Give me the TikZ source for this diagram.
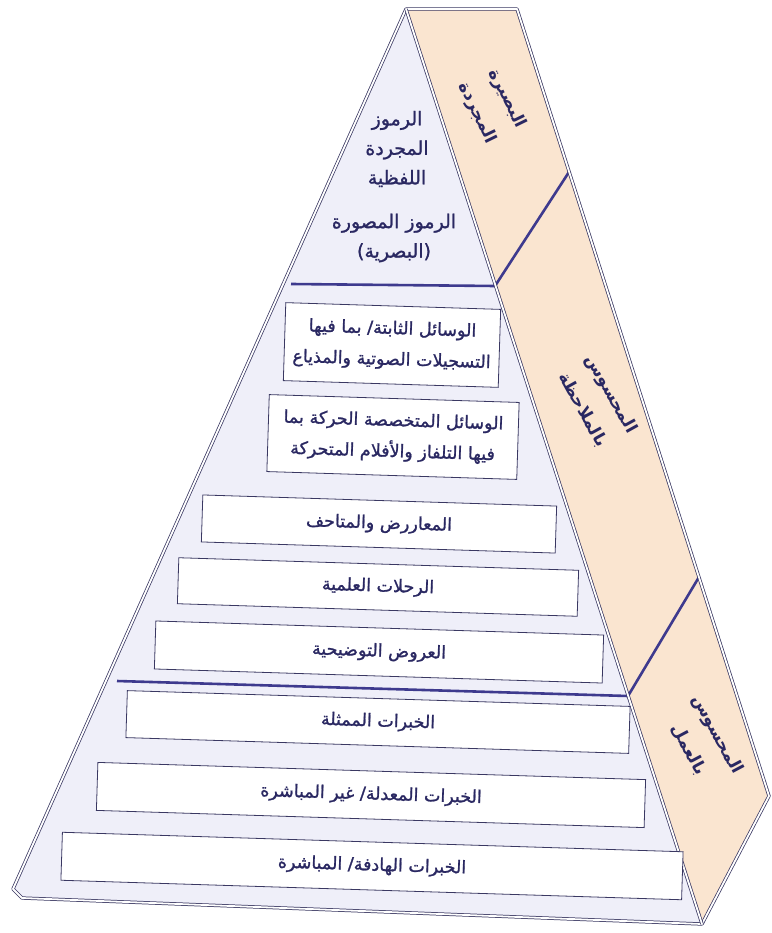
\documentclass[tikz,border=0pt]{standalone}
\usepackage{fontspec}
\TeXXeTstate=1
\newfontfamily\arabicfont[Script=Arabic,FakeBold=1.2]{DejaVu Sans}
\newfontfamily\arabicbold[Script=Arabic]{DejaVu Sans Bold}
\newcommand{\R}[1]{\beginR #1\endR}
\definecolor{frontfill}{HTML}{EFEFF9}
\definecolor{sidefill}{HTML}{FAE5D0}
\definecolor{edgec}{HTML}{3A3862}
\definecolor{thickc}{HTML}{3E3A8E}
\definecolor{textc}{HTML}{2A2862}
\begin{document}
\begin{tikzpicture}[x=1pt,y=-1pt,
  edge/.style={draw=edgec,line width=0.75pt,double=white,double distance=1.8pt,line join=round},
  divider/.style={draw=thickc,line width=2.6pt},
  levelbox/.style={draw=edgec,fill=white,line width=0.8pt,rotate=-1.8,inner sep=0pt,
     align=center,text=textc,font=\arabicfont\fontsize{17.5}{31}\selectfont},
  fronttext/.style={align=center,text=textc,font=\arabicfont\fontsize{19}{29.5}\selectfont},
  sidetext/.style={align=center,text=textc,font=\arabicbold\fontsize{17}{33}\selectfont}]
\fill[white] (0,0) rectangle (771,933);
\useasboundingbox (0,0) rectangle (771,933);
% outline coordinates
\coordinate (apex) at (406,9);
\coordinate (tr) at (517,9);
\coordinate (bl1) at (13,889);
\coordinate (bl2) at (22,898);
\coordinate (br) at (702,924);
\coordinate (sr) at (769,796);
% faces
\fill[frontfill] (apex) -- (bl1) -- (bl2) -- (br) -- cycle;
\fill[sidefill] (apex) -- (tr) -- (sr) -- (br) -- cycle;
% dividers on the front
\coordinate (d1l) at (291,284);
\coordinate (d1r) at (495,286);
\coordinate (d2l) at (117,681);
\coordinate (d2r) at (628,696);
\draw[divider] (d1l) -- (d1r);
\draw[divider] (d2l) -- (d2r);
% dividers on the side
\coordinate (s1t) at (569,172);
\coordinate (s2t) at (699,577);
\draw[divider] (d1r) -- (s1t);
\draw[divider] (d2r) -- (s2t);
% edges
\draw[edge] (apex) -- (bl1) -- (bl2) -- (br) -- (sr) -- (tr) -- (apex) -- cycle;
\draw[edge] (apex) -- (br);
% top labels on the front
\node[fronttext] (t1) at (397,149) {\R{الرموز}\\\R{المجردة}\\\R{اللفظية}};
\node[fronttext] (t2) at (394,238) {\R{الرموز المصورة}\\\R{(البصرية)}};
% boxes
\node[levelbox,minimum width=215pt,minimum height=78pt] (b1) at (392,345)
  {\R{الوسائل الثابتة/ بما فيها}\\\R{التسجيلات الصوتية والمذياع}};
\node[levelbox,minimum width=250pt,minimum height=77pt] (b2) at (393,437)
  {\R{الوسائل المتخصصة الحركة بما}\\\R{فيها التلفاز والأفلام المتحركة}};
\node[levelbox,minimum width=354pt,minimum height=47pt] (b3) at (379,524) {\R{المعاررض والمتاحف}};
\node[levelbox,minimum width=400pt,minimum height=46pt] (b4) at (378,587) {\R{الرحلات العلمية}};
\node[levelbox,minimum width=448pt,minimum height=48pt] (b5) at (379,652) {\R{العروض التوضيحية}};
\node[levelbox,minimum width=503pt,minimum height=47pt] (b6) at (378,722) {\R{الخبرات الممثلة}};
\node[levelbox,minimum width=548pt,minimum height=48pt] (b7) at (371,795) {\R{الخبرات المعدلة/ غير المباشرة}};
\node[levelbox,minimum width=621pt,minimum height=48pt] (b8) at (372,866) {\R{الخبرات الهادفة/ المباشرة}};
% side labels
\node[sidetext,rotate=-64] (l1) at (492,106) {\R{البصيرة}\\\R{المجردة}};
\node[sidetext,rotate=-61] (l2) at (597,402) {\R{المحسوس}\\\R{بالملاحظة}};
\node[sidetext,rotate=-62] (l3) at (703,742) {\R{المحسوس}\\\R{بالعمل}};
\end{tikzpicture}
\end{document}
